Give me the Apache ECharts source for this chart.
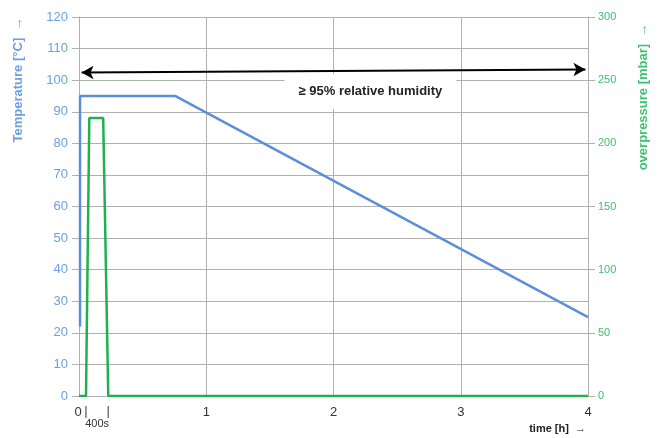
<!DOCTYPE html>
<html>
<head>
<meta charset="utf-8">
<script src="https://cdn.jsdelivr.net/npm/echarts@6/dist/echarts.min.js"></script>
<style>
  html, body { margin: 0; padding: 0; background: #fff; }
  #chart { width: 660px; height: 438px; }
</style>
</head>
<body>
<div id="chart"></div>
<script>
// Temperature profile (hours, °C)
const tempTime = [0.008, 0.008, 0.755, 4];
const tempValues = [22, 95, 95, 25];

// Overpressure pulse (hours, mbar)
const pressTime = [0, 0.055, 0.081, 0.19, 0.23, 4];
const pressValues = [0, 0, 220, 220, 0, 0];

// Humidity span arrow (hours, °C)
const humidityArrow = [[0.02, 102.4], [3.98, 103.4]];
const humidityText = '≥ 95% relative humidity';
const humidityTextAt = [2.29, 96.4];

// Pulse duration markers on the time axis
const pulseMarks = [0.055, 0.23];
const pulseLabel = '400s';

const xTicks = [0, 1, 2, 3, 4];

const BLUE = '#5b8fdc';
const BLUE_TEXT = '#6c9fe2';
const GREEN = '#1fb14f';
const GREEN_TEXT = '#3ec16f';
const GRID = '#b0b0b0';

const chart = echarts.init(document.getElementById('chart'));

const toPairs = (xs, ys) => xs.map((x, i) => [x, ys[i]]);

chart.setOption({
  animation: false,
  grid: { left: 79, right: 72, top: 17, bottom: 42 },
  xAxis: {
    type: 'value', min: xTicks[0], max: xTicks[xTicks.length - 1], interval: 1,
    axisLine: { show: true, lineStyle: { color: GRID } },
    axisTick: { show: false },
    splitLine: { show: true, lineStyle: { color: GRID, width: 1 } },
    axisLabel: {
      color: '#333', fontSize: 13, fontFamily: 'Liberation Sans', margin: 10,
      formatter: v => (v === 0 ? '' : String(v))
    }
  },
  yAxis: [
    {
      type: 'value', min: 0, max: 120, interval: 10,
      axisLine: { show: true, lineStyle: { color: GRID } },
      axisTick: { show: true, length: 7, lineStyle: { color: GRID } },
      splitLine: { show: true, lineStyle: { color: GRID, width: 1 } },
      axisLabel: { color: BLUE_TEXT, fontSize: 13, fontFamily: 'Liberation Sans', margin: 11 }
    },
    {
      type: 'value', min: 0, max: 300, interval: 50, position: 'right',
      axisLine: { show: true, lineStyle: { color: GRID } },
      axisTick: { show: true, length: 7, lineStyle: { color: GRID } },
      splitLine: { show: false },
      axisLabel: { color: GREEN_TEXT, fontSize: 11, fontFamily: 'Liberation Sans', margin: 10 }
    }
  ],
  series: [
    {
      name: 'overpressure', type: 'line', yAxisIndex: 1,
      data: toPairs(pressTime, pressValues),
      symbol: 'none', lineStyle: { color: GREEN, width: 2.5 }
    },
    {
      name: 'temperature', type: 'line', yAxisIndex: 0,
      data: toPairs(tempTime, tempValues),
      symbol: 'none', lineStyle: { color: BLUE, width: 2.5 },
      markLine: {
        silent: true,
        symbol: ['arrow', 'arrow'],
        symbolSize: [10, 12],
        label: { show: false },
        lineStyle: { color: '#000', width: 2, type: 'solid' },
        data: [[{ coord: humidityArrow[0] }, { coord: humidityArrow[1] }]]
      }
    }
  ]
});

// Text annotations placed in data coordinates
function place() {
  const c = (pt, yi) => chart.convertToPixel({ xAxisIndex: 0, yAxisIndex: yi || 0 }, pt);
  const textPos = c(humidityTextAt);
  const zero = c([0, 0]);
  const elements = [
    {
      type: 'text', x: textPos[0], y: textPos[1], z: 100,
      style: {
        text: humidityText, fill: '#222', font: 'bold 13px "Liberation Sans", Arial',
        align: 'center', verticalAlign: 'middle',
        backgroundColor: '#fff', padding: [11, 14, 11, 14]
      }
    },
    {
      type: 'text', x: zero[0] - 1, y: zero[1] + 16,
      style: { text: '0', fill: '#333', font: '13px "Liberation Sans", Arial', align: 'center', verticalAlign: 'middle' }
    },
    {
      type: 'text', x: (c([pulseMarks[0], 0])[0] + c([pulseMarks[1], 0])[0]) / 2, y: zero[1] + 28,
      style: { text: pulseLabel, fill: '#333', font: '11px "Liberation Sans", Arial', align: 'center', verticalAlign: 'middle' }
    },
    {
      type: 'text', x: 586, y: 429,
      style: { text: 'time [h]  →', fill: '#222', font: 'bold 11px "Liberation Sans", Arial', align: 'right', verticalAlign: 'middle' }
    },
    {
      type: 'text', x: 18, y: 80, rotation: Math.PI / 2,
      style: { text: 'Temperature [°C]  →', fill: BLUE_TEXT, font: 'bold 13px "Liberation Sans", Arial', align: 'center', verticalAlign: 'middle' }
    },
    {
      type: 'text', x: 643, y: 97, rotation: Math.PI / 2,
      style: { text: 'overpressure [mbar]  →', fill: GREEN_TEXT, font: 'bold 13px "Liberation Sans", Arial', align: 'center', verticalAlign: 'middle' }
    }
  ];
  pulseMarks.forEach(t => {
    const p = c([t, 0]);
    elements.push({
      type: 'text', x: p[0], y: zero[1] + 15,
      style: { text: '|', fill: '#444', font: '13px "Liberation Sans", Arial', align: 'center', verticalAlign: 'middle' }
    });
  });
  chart.setOption({ graphic: elements });
}
place();
</script>
</body>
</html>
